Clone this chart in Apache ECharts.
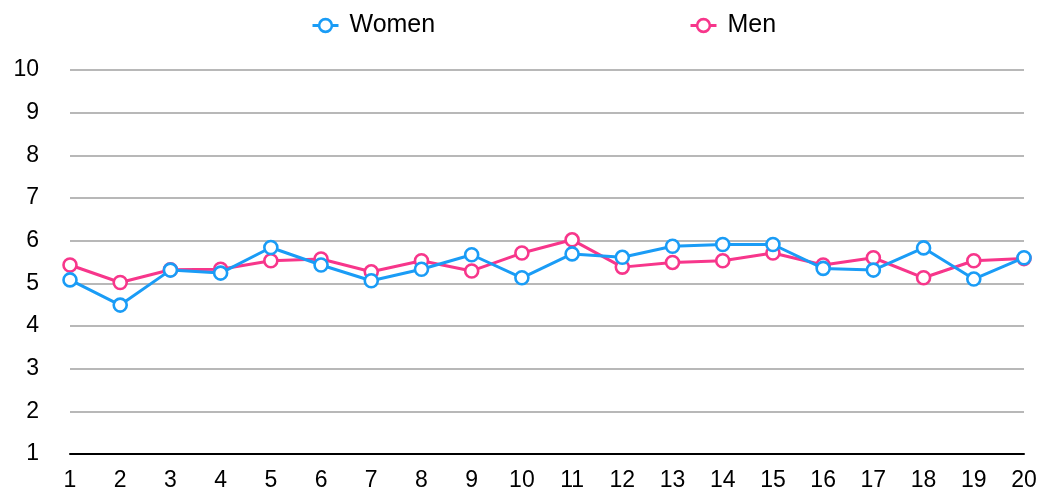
<!DOCTYPE html>
<html>
<head>
<meta charset="utf-8">
<script src="https://cdn.jsdelivr.net/npm/echarts@6/dist/echarts.min.js"></script>
<style>
  html, body { margin: 0; padding: 0; background: #fff; }
  #chart { width: 1054px; height: 495px; }
</style>
</head>
<body>
<div id="chart"></div>
<script>
// Survey scores per question, by group
const categories = ['1','2','3','4','5','6','7','8','9','10','11','12','13','14','15','16','17','18','19','20'];
const women = [5.08, 4.49, 5.31, 5.24, 5.84, 5.43, 5.06, 5.33, 5.67, 5.13, 5.69, 5.61, 5.87, 5.91, 5.91, 5.35, 5.31, 5.83, 5.10, 5.60];
const men   = [5.43, 5.02, 5.32, 5.33, 5.53, 5.57, 5.27, 5.53, 5.29, 5.71, 6.02, 5.38, 5.49, 5.53, 5.71, 5.43, 5.60, 5.13, 5.53, 5.58];

const BLUE = '#1a9cf6';
const PINK = '#f7368b';
const FONT = '"Liberation Sans", Arial, Helvetica, sans-serif';

const chart = echarts.init(document.getElementById('chart'), null, { renderer: 'canvas' });

function lineSeries(name, data, color) {
  return {
    name: name,
    type: 'line',
    data: data,
    symbol: 'circle',
    symbolSize: 13,
    showAllSymbol: true,
    lineStyle: { color: color, width: 3 },
    itemStyle: { color: '#fff', borderColor: color, borderWidth: 2.6 },
    emphasis: { disabled: true },
    z: name === 'Women' ? 3 : 2
  };
}

const legendBase = {
  top: 8,
  itemWidth: 26,
  itemHeight: 16,
  lineStyle: { width: 3 },
  itemStyle: { borderWidth: 2.6 },
  textStyle: { fontFamily: FONT, fontSize: 25, color: '#000', padding: [0, 0, 0, 6] },
  selectedMode: false
};

chart.setOption({
  animation: false,
  backgroundColor: '#fff',
  legend: [
    Object.assign({ left: 306, data: ['Women'] }, legendBase),
    Object.assign({ left: 684, data: ['Men'] }, legendBase)
  ],
  grid: { left: 70, right: 30, top: 70, bottom: 41, containLabel: false },
  xAxis: {
    type: 'category',
    data: categories,
    boundaryGap: false,
    axisLine: { lineStyle: { color: '#000', width: 2 } },
    axisTick: { show: false },
    axisLabel: { fontFamily: FONT, fontSize: 23, color: '#000', margin: 15, interval: 0 },
    splitLine: { show: false }
  },
  yAxis: {
    type: 'value',
    min: 1,
    max: 10,
    interval: 1,
    axisLine: { show: false },
    axisTick: { show: false },
    axisLabel: { fontFamily: FONT, fontSize: 23, color: '#000', margin: 31, padding: [3, 0, 0, 0] },
    splitLine: { lineStyle: { color: '#b8b8b8', width: 2 } }
  },
  series: [
    lineSeries('Men', men, PINK),
    lineSeries('Women', women, BLUE)
  ]
});
</script>
</body>
</html>
